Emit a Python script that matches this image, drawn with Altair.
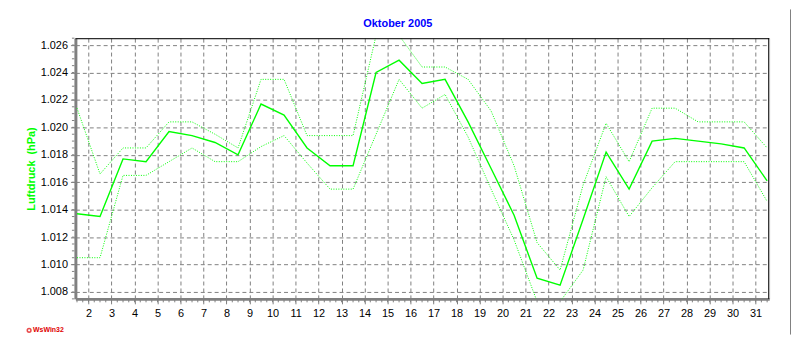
import altair as alt
import pandas as pd

# ---- data ----
days = list(range(1, 32))
mean_vals = [1.0137, 1.0135, 1.0177, 1.0175, 1.0197, 1.0194, 1.0189, 1.0180,
             1.0217, 1.0209, 1.0185, 1.0172, 1.0172, 1.0240, 1.0249, 1.0232,
             1.0235, 1.0204, 1.0170, 1.0136, 1.0090, 1.0085, 1.0133, 1.0182,
             1.0155, 1.0190, 1.0192, 1.0190, 1.0188, 1.0185, 1.0161]
max_vals = [1.0214, 1.0166, 1.0185, 1.0185, 1.0204, 1.0204, 1.0195, 1.0185,
            1.0235, 1.0235, 1.0194, 1.0194, 1.0194, 1.0267, 1.0267, 1.0244,
            1.0244, 1.0235, 1.0212, 1.0172, 1.0116, 1.0096, 1.0158, 1.0203,
            1.0175, 1.0214, 1.0214, 1.0204, 1.0204, 1.0204, 1.0185]
min_vals = [1.0105, 1.0105, 1.0165, 1.0165, 1.0175, 1.0185, 1.0175, 1.0175,
            1.0186, 1.0194, 1.0174, 1.0155, 1.0155, 1.0195, 1.0235, 1.0214,
            1.0224, 1.0193, 1.0155, 1.0118, 1.0073, 1.0073, 1.0096, 1.0164,
            1.0135, 1.0156, 1.0175, 1.0175, 1.0175, 1.0175, 1.0146]

x_labels = list(range(2, 32))
y_labels = [1.008, 1.010, 1.012, 1.014, 1.016, 1.018, 1.020, 1.022, 1.024, 1.026]
x_minor = [1.5 + 0.25 * i for i in range(121)]
y_minor = [round(1.0075 + 0.0005 * i, 4) for i in range(39)]

title_text = "Oktober 2005"
y_title = "Luftdruck\u00a0 (hPa)"
logo_text = "WsWin32"

GREEN = "#00FF00"
GRAY = "#808080"
W, H = 700, 263
XDOM = [1.43, 31.59]
YDOM = [1.0075, 1.0265]
FONT = "Arial, Liberation Sans, sans-serif"

rows = []
for d, a, b, c in zip(days, mean_vals, max_vals, min_vals):
    rows.append({"x": d + 0.5, "v": a, "s": "mean"})
    rows.append({"x": d + 0.5, "v": b, "s": "max"})
    rows.append({"x": d + 0.5, "v": c, "s": "min"})
df = pd.DataFrame(rows)

xs = alt.Scale(domain=XDOM, nice=False, zero=False)
ys = alt.Scale(domain=YDOM, nice=False, zero=False)

x_axis = alt.Axis(values=x_labels, format="d", grid=True, gridDash=[4, 3],
                  gridColor=GRAY, gridWidth=1, domainColor=GRAY, domainWidth=3,
                  tickColor=GRAY, tickSize=5, labelPadding=4, labelFontSize=11,
                  labelFont=FONT, labelColor="black", title=None,
                  labelOverlap=False)
y_axis = alt.Axis(values=y_labels, format=".3f", grid=True, gridDash=[4, 3],
                  gridColor=GRAY, gridWidth=1, domainColor=GRAY, domainWidth=3,
                  tickColor=GRAY, tickSize=5, labelPadding=3, labelFontSize=11,
                  labelFont=FONT, labelColor="black", title=y_title,
                  titleColor=GREEN, titleFont=FONT, titleFontSize=11,
                  titleFontWeight="bold", titleAngle=270, titleX=-44,
                  titleY=H / 2, titleAlign="center", titleBaseline="middle",
                  labelOverlap=False)

X = lambda f: alt.X(f, scale=xs, axis=x_axis)
Y = lambda f: alt.Y(f, scale=ys, axis=y_axis)

base = alt.Chart(df)
dotted = base.transform_filter(alt.datum.s != "mean").mark_line(
    color=GREEN, strokeWidth=1, strokeDash=[1, 1.5], clip=True
).encode(x=X("x:Q"), y=Y("v:Q"), detail="s:N")
solid = base.transform_filter(alt.datum.s == "mean").mark_line(
    color=GREEN, strokeWidth=1.4, clip=True
).encode(x=X("x:Q"), y=Y("v:Q"))

xm = alt.Chart(pd.DataFrame({"x": x_minor})).mark_rule(color=GRAY, strokeWidth=1).encode(
    x=X("x:Q"), y=alt.value(H + 1), y2=alt.value(H + 3.5))
ym = alt.Chart(pd.DataFrame({"y": y_minor})).mark_rule(color=GRAY, strokeWidth=1).encode(
    y=Y("y:Q"), x=alt.value(-3.5), x2=alt.value(-1))

one = pd.DataFrame({"t": [title_text], "l": [logo_text]})
border_top = alt.Chart(one).mark_rule(color="black", strokeWidth=1).encode(
    x=alt.value(0), x2=alt.value(W), y=alt.value(0.5))
border_right = alt.Chart(one).mark_rule(color="black", strokeWidth=1).encode(
    x=alt.value(W - 0.5), y=alt.value(0), y2=alt.value(H))
frame_right = alt.Chart(one).mark_rule(color=GRAY, strokeWidth=1).encode(
    x=alt.value(721.5), y=alt.value(-29), y2=alt.value(299))

title = alt.Chart(one).mark_text(
    font=FONT, fontSize=11, fontWeight="bold", color="#0000FF",
    align="center", baseline="middle"
).encode(x=alt.value(325.3), y=alt.value(-14.5), text="t:N")

logo_txt = alt.Chart(one).mark_text(
    font=FONT, fontSize=7, fontWeight="bold", color="#E00000",
    align="left", baseline="middle"
).encode(x=alt.value(-42.7), y=alt.value(294.7), text="l:N")
logo_dot = alt.Chart(one).mark_point(
    shape="circle", filled=False, color="#E00000", size=14, strokeWidth=1.5
).encode(x=alt.value(-46.7), y=alt.value(294.7))

chart = alt.layer(
    dotted, solid, xm, ym, border_top, border_right, frame_right,
    title, logo_txt, logo_dot
).properties(
    width=W, height=H,
    autosize=alt.AutoSizeParams(type="none"),
    padding={"left": 68, "top": 29, "right": 23, "bottom": 36},
).configure_view(stroke=None).configure(background="white")

chart.save("out.html", embed_options={"renderer": "svg", "actions": False})
